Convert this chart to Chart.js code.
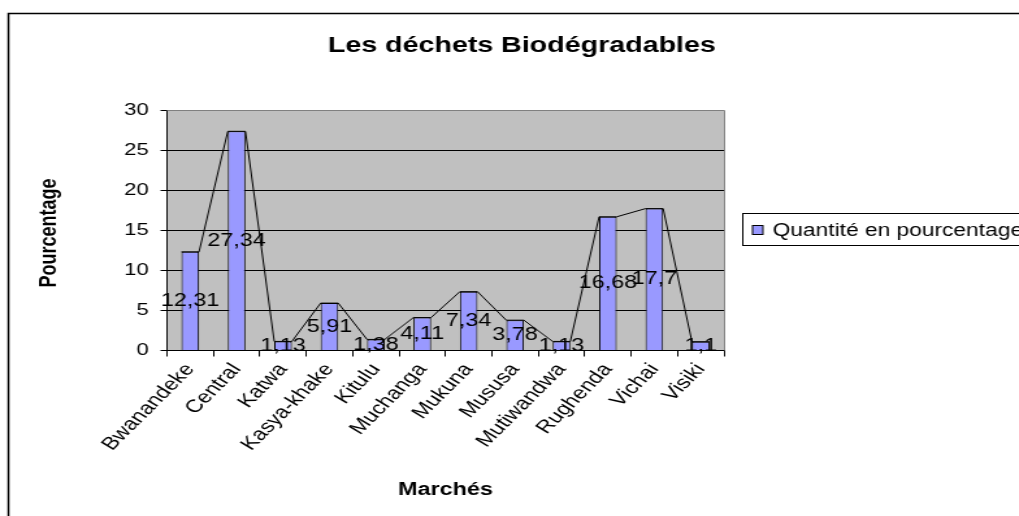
<!DOCTYPE html>
<html>
<head>
<meta charset="utf-8">
<script src="https://cdn.jsdelivr.net/npm/chart.js@4"></script>
<style>
    html, body { margin: 0; padding: 0; background: #fff; overflow: hidden; }
    /* the original picture is stretched sideways, so the canvas is too */
    #wrap { width: 784px; height: 516px; transform: scaleX(1.2997); transform-origin: 0 0; }
</style>
</head>
<body>
<div id="wrap"><canvas id="wasteChart" width="784" height="516"></canvas></div>
<script>
// --- Data ---
const categories = ['Bwanandeke', 'Central', 'Katwa', 'Kasya-khake', 'Kitulu', 'Muchanga',
                    'Mukuna', 'Mususa', 'Mutiwandwa', 'Rughenda', 'Vichai', 'Visiki'];
const quantities = [12.31, 27.34, 1.13, 5.91, 1.38, 4.11, 7.34, 3.78, 1.13, 16.68, 17.7, 1.1];
const yTicks = [0, 5, 10, 15, 20, 25, 30];

const chartTitle = 'Les déchets Biodégradables';
const xTitle = 'Marchés';
const yTitle = 'Pourcentage';
const seriesLabel = 'Quantité en pourcentage';

const FONT = "'Liberation Sans', Arial, sans-serif";
Chart.defaults.font.family = FONT;
Chart.defaults.color = '#000';

// --- Plugin: Excel style decorations (plot fill, joined bar tops, labels, frame, legend) ---
const excelDecor = {
    id: 'excelDecor',
    beforeDraw(chart) {
        const { ctx, chartArea: a } = chart;
        ctx.save();
        ctx.fillStyle = '#c0c0c0';
        ctx.fillRect(a.left, a.top, a.right - a.left, a.bottom - a.top);
        ctx.restore();
    },
    afterDatasetsDraw(chart) {
        const ctx = chart.ctx;
        const bars = chart.getDatasetMeta(0).data;

        // line running over the top corners of every bar
        ctx.save();
        ctx.strokeStyle = '#000';
        ctx.lineWidth = 1;
        ctx.beginPath();
        bars.forEach((bar, i) => {
            const p = bar.getProps(['x', 'y', 'width'], true);
            if (i === 0) ctx.moveTo(p.x - p.width / 2, p.y);
            else ctx.lineTo(p.x - p.width / 2, p.y);
            ctx.lineTo(p.x + p.width / 2, p.y);
        });
        ctx.stroke();

        // value labels, centred in the bars
        ctx.font = '18px ' + FONT;
        ctx.fillStyle = '#000';
        ctx.textAlign = 'center';
        ctx.textBaseline = 'middle';
        bars.forEach((bar, i) => {
            const p = bar.getProps(['x', 'y', 'base'], true);
            ctx.fillText(String(quantities[i]).replace('.', ','), p.x, (p.y + p.base) / 2);
        });
        ctx.restore();
    },
    afterDraw(chart) {
        const { ctx, chartArea: a } = chart;
        ctx.save();

        // gray top / right edge of the plot
        ctx.strokeStyle = '#808080';
        ctx.lineWidth = 1;
        ctx.beginPath();
        ctx.moveTo(a.left, a.top + 0.5);
        ctx.lineTo(a.right + 0.5, a.top + 0.5);
        ctx.lineTo(a.right + 0.5, a.bottom);
        ctx.stroke();

        // outer frame (runs off the right and bottom)
        ctx.strokeStyle = '#000';
        ctx.lineWidth = 1.5;
        ctx.beginPath();
        ctx.moveTo(6.5, 600);
        ctx.lineTo(6.5, 13.5);
        ctx.lineTo(900, 13.5);
        ctx.stroke();

        // title + axis titles
        ctx.fillStyle = '#000';
        ctx.textAlign = 'center';
        ctx.font = 'bold 22px ' + FONT;
        ctx.textBaseline = 'alphabetic';
        ctx.fillText(chartTitle, 401.5, 52);

        ctx.font = 'bold 18px ' + FONT;
        ctx.textBaseline = 'middle';
        ctx.fillText(xTitle, (a.left + a.right) / 2, 490);

        ctx.save();
        ctx.translate(38.5, 233);
        ctx.rotate(-Math.PI / 2);
        ctx.fillText(yTitle, 0, 0);
        ctx.restore();

        // legend box
        ctx.lineWidth = 1;
        ctx.strokeStyle = '#000';
        ctx.strokeRect(571.5, 213.5, 300, 32);
        ctx.fillStyle = '#9999ff';
        ctx.fillRect(579, 225.5, 8, 9);
        ctx.strokeRect(579, 225.5, 8, 9);
        ctx.fillStyle = '#000';
        ctx.font = '17.5px ' + FONT;
        ctx.textAlign = 'left';
        ctx.textBaseline = 'alphabetic';
        ctx.fillText(seriesLabel, 594.5, 235.5);

        ctx.restore();
    }
};

// --- Chart ---
const ctx = document.getElementById('wasteChart').getContext('2d');
new Chart(ctx, {
    type: 'bar',
    data: {
        labels: categories,
        datasets: [{
            label: seriesLabel,
            data: quantities,
            backgroundColor: '#9999ff',
            borderColor: '#000',
            borderWidth: 1,
            categoryPercentage: 1,
            barPercentage: 0.38
        }]
    },
    options: {
        responsive: false,
        animation: false,
        devicePixelRatio: 1,
        layout: { padding: { top: 110, right: 227, left: 0, bottom: 0 } },
        plugins: {
            legend: { display: false },
            title: { display: false },
            tooltip: { enabled: false }
        },
        scales: {
            x: {
                offset: true,
                grid: { offset: true, drawOnChartArea: false, color: '#000', tickLength: 6 },
                border: { color: '#000', width: 1 },
                ticks: {
                    autoSkip: false, minRotation: 52, maxRotation: 52,
                    padding: 3, font: { size: 18 }, color: '#000'
                },
                afterFit(scale) { scale.height = 165.5; }
            },
            y: {
                min: yTicks[0],
                max: yTicks[yTicks.length - 1],
                afterBuildTicks(scale) { scale.ticks = yTicks.map(v => ({ value: v })); },
                grid: {
                    color: c => c.tick && c.tick.value === yTicks[yTicks.length - 1] ? '#808080' : '#000',
                    tickColor: '#000',
                    tickLength: 5
                },
                border: { color: '#000', width: 1 },
                ticks: { padding: 9, font: { size: 17 }, color: '#000' },
                afterFit(scale) { scale.width = 128.5; }
            }
        }
    },
    plugins: [excelDecor]
});
</script>
</body>
</html>
